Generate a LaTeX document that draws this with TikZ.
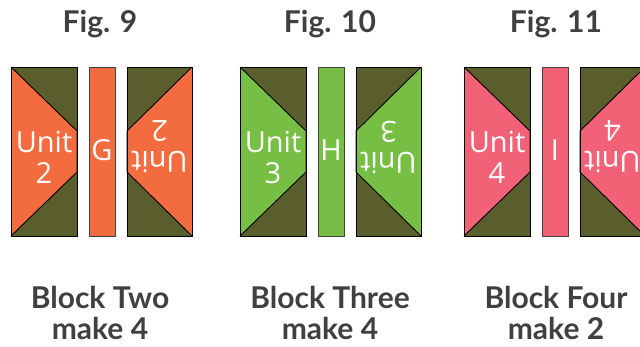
\documentclass[tikz,border=0pt]{standalone}
\usepackage{fontspec}
\setmainfont{Lato}
\newfontfamily\unitfont{Open Sans}
\usepackage{xcolor}
\usepackage{tikz}
\usetikzlibrary{positioning}
\definecolor{QuiltOlive}{RGB}{90, 94, 44}
\definecolor{QuiltOrange}{RGB}{242, 108, 64}
\definecolor{QuiltGreen}{RGB}{118, 190, 68}
\definecolor{QuiltPink}{RGB}{241, 98, 118}
\definecolor{QuiltGrey}{RGB}{64, 64, 64}

\tikzset{
  figlabel/.style={font=\fontsize{30}{31}\selectfont\bfseries, text=QuiltGrey,
                   inner sep=0pt, anchor=base, align=center},
  unitlabel/.style={font=\unitfont\fontsize{29}{31}\selectfont, text=white,
                    align=center, inner sep=0pt},
  patch/.style={draw=black, line width=0.9pt},
}

\begin{document}
\begin{tikzpicture}[x=1pt, y=-1pt]
  \useasboundingbox (0,0) rectangle (640,346);
  \begin{scope}
    \clip (0,0) rectangle (640,346);
    \foreach \xo/\col/\strip/\unum in
        {11/QuiltOrange/G/2, 240/QuiltGreen/H/3, 464/QuiltPink/I/4} {
      % left unit
      \fill[QuiltOlive] (\xo,67) rectangle (\xo+66,236);
      \fill[\col] (\xo,67) -- (\xo+66,131) -- (\xo+66,172) -- (\xo,236) -- cycle;
      \draw[patch] (\xo,67) -- (\xo+66,131) -- (\xo+66,172) -- (\xo,236);
      \draw[patch] (\xo,67) rectangle (\xo+66,236);
      % strip
      \draw[patch, draw=QuiltGrey, fill=\col] (\xo+78,67) rectangle (\xo+104,236);
      % right unit, turned round
      \fill[QuiltOlive] (\xo+116,67) rectangle (\xo+181,236);
      \fill[\col] (\xo+181,67) -- (\xo+116,131) -- (\xo+116,172) -- (\xo+181,236) -- cycle;
      \draw[patch] (\xo+181,67) -- (\xo+116,131) -- (\xo+116,172) -- (\xo+181,236);
      \draw[patch] (\xo+116,67) rectangle (\xo+181,236);
      % labels
      \node[unitlabel] (unitL\unum) at (\xo+33,157) {Unit\\\unum};
      \node[unitlabel, rotate=180] (unitR\unum) at (\xo+148.5,147) {Unit\\\unum};
      \node[unitlabel] (strip\unum) at (\xo+91,150) {\strip};
    }
  \end{scope}
  \foreach \xc/\fignum/\blk/\cnt in {100/9/Two/4, 330/10/Three/4, 556/11/Four/2} {
    \node[figlabel] (title\fignum) at (\xc,32) {Fig. \fignum};
    \node[figlabel] (block\fignum) at (\xc,339) {Block \blk\\make \cnt};
  }
\end{tikzpicture}
\end{document}
